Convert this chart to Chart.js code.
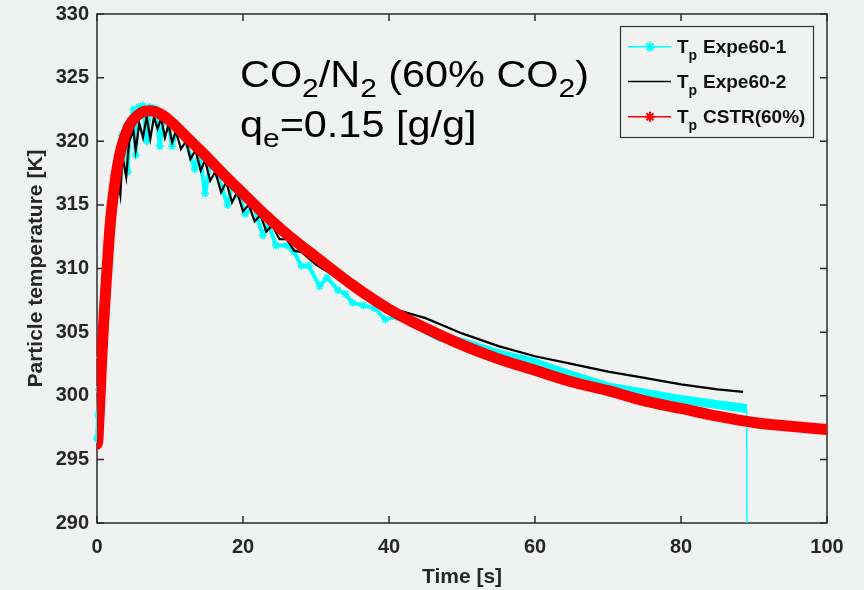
<!DOCTYPE html>
<html>
<head>
<meta charset="utf-8">
<script src="https://cdn.jsdelivr.net/npm/chart.js@4"></script>
<style>
  html, body { margin: 0; padding: 0; background: #eff2f1; }
  canvas { display: block; }
</style>
</head>
<body>
<canvas id="tempChart" width="864" height="590"></canvas>
<script>
    // CSTR model (red)
    const tCstr = [0, 0.1, 0.3, 0.5, 0.7, 0.9, 1.2, 1.5, 1.8, 2.2, 2.6, 3.1, 3.6, 4.5, 5.5, 6.5, 7.3, 8.5, 10, 12.5, 15, 17.5, 20, 22.5, 25, 27.5, 30, 35, 40, 45, 50, 55, 60, 65, 70, 75, 80, 85, 90, 95, 100];
    const TCstr = [296.2, 296.4, 298.5, 301.0, 303.5, 305.6, 308.4, 311.0, 313.4, 315.6, 317.3, 318.9, 320.0, 321.3, 322.0, 322.35, 322.4, 322.2, 321.6, 320.2, 318.8, 317.3, 315.9, 314.5, 313.2, 312.0, 310.9, 308.7, 306.8, 305.3, 304.0, 302.9, 302.0, 301.1, 300.4, 299.6, 299.0, 298.4, 297.9, 297.6, 297.35];

    // Experiment 60-1 (cyan)
    const tExp1 = [0, 0.15, 0.3, 0.45, 0.6, 0.8, 1.0, 1.3, 1.7, 2.2, 2.8, 3.4, 4.0, 4.2, 4.5, 5.0, 5.3, 5.7, 6.3, 6.8, 7.3, 8.0, 8.6, 9.2, 9.8, 10.3, 11, 12, 13.4, 14, 14.8, 15.5, 16.5, 17.9, 18.5, 19.5, 20.3, 21.5, 22.7, 23.5, 24.5, 26, 27, 28, 29, 30.5, 31.5, 33, 34, 35, 36.5, 38, 39.5, 41, 43, 45, 47, 50, 55, 60, 65, 70, 75, 80, 85, 89, 89.05];
    const TExp1 = [296.6, 298.5, 300.5, 303.0, 305.0, 307.3, 309.2, 311.5, 314.0, 316.5, 318.8, 320.5, 321.2, 317.6, 321.6, 322.5, 318.9, 322.7, 322.8, 320.0, 322.7, 322.6, 319.6, 322.1, 321.4, 319.6, 321.0, 320.2, 317.8, 319.2, 315.9, 318.2, 317.4, 315.0, 316.5, 315.7, 314.3, 314.9, 312.6, 313.5, 311.8, 311.8, 311.3, 310.2, 310.2, 308.6, 309.3, 308.3, 308.0, 307.3, 307.1, 306.9, 306.0, 306.2, 305.7, 305.2, 304.6, 304.2, 303.3, 302.6, 301.6, 300.7, 300.2, 299.7, 299.3, 299.0, 285.0];

    // Experiment 60-2 (black)
    const tExp2 = [0, 0.2, 0.4, 0.6, 0.8, 1.0, 1.3, 1.7, 2.2, 2.8, 3.2, 3.5, 4.0, 4.4, 5.0, 5.3, 5.8, 6.3, 6.8, 7.3, 7.8, 8.3, 8.8, 9.3, 9.8, 10.3, 10.8, 11.5, 12.2, 12.8, 13.5, 14.2, 14.8, 15.5, 16.2, 17, 17.7, 18.5, 19.2, 20, 20.8, 21.6, 22.4, 23.2, 24, 25, 26, 27, 28, 30, 32, 34, 36, 38, 40, 42, 45, 47.5, 50, 55, 60, 65, 70, 75, 80, 85, 88.5];
    const TExp2 = [296.5, 298.6, 301.5, 304.0, 306.3, 308.0, 310.5, 313.0, 315.3, 317.3, 315.8, 318.8, 317.2, 320.0, 320.8, 319.3, 321.4, 320.3, 321.9, 320.2, 321.9, 321.0, 321.8, 320.3, 321.3, 319.9, 320.8, 319.4, 320.0, 318.6, 319.3, 317.7, 318.5, 316.9, 317.6, 316.0, 316.8, 315.2, 316.0, 314.5, 315.0, 313.7, 314.2, 312.9, 313.4, 312.3, 312.3, 311.4, 311.3, 310.3, 309.6, 308.9, 308.4, 307.7, 306.9, 306.6, 306.1, 305.5, 304.9, 303.9, 303.1, 302.5, 301.9, 301.4, 300.9, 300.5, 300.3];

    const xTicks = [0, 20, 40, 60, 80, 100];
    const yTicks = [290, 295, 300, 305, 310, 315, 320, 325, 330];
    const legendNames = ['Expe60-1', 'Expe60-2', 'CSTR(60%)'];

    const bg = '#eff2f1';
    const axisColor = '#2b2b2b';
    const cyan = '#00ffff';
    const red = '#ff0000';

    const pts = (ts, vs) => ts.map((t, i) => ({ x: t, y: vs[i] }));

    // box around the plot and inward ticks, MATLAB style
    const frame = {
      id: 'frame',
      beforeDatasetsDraw(chart) {
        const { ctx, chartArea: a, scales: { x, y } } = chart;
        ctx.save();
        ctx.strokeStyle = axisColor;
        ctx.lineWidth = 1.5;
        ctx.strokeRect(a.left, a.top, a.right - a.left, a.bottom - a.top);
        ctx.beginPath();
        xTicks.forEach(v => {
          const px = x.getPixelForValue(v);
          ctx.moveTo(px, a.bottom); ctx.lineTo(px, a.bottom - 7);
          ctx.moveTo(px, a.top); ctx.lineTo(px, a.top + 7);
        });
        yTicks.forEach(v => {
          const py = y.getPixelForValue(v);
          ctx.moveTo(a.left, py); ctx.lineTo(a.left + 7, py);
          ctx.moveTo(a.right, py); ctx.lineTo(a.right - 7, py);
        });
        ctx.stroke();
        ctx.restore();
      }
    };

    function star(ctx, x, y, r) {
      ctx.beginPath();
      ctx.moveTo(x - r, y); ctx.lineTo(x + r, y);
      ctx.moveTo(x, y - r); ctx.lineTo(x, y + r);
      const d = r * 0.7071;
      ctx.moveTo(x - d, y - d); ctx.lineTo(x + d, y + d);
      ctx.moveTo(x - d, y + d); ctx.lineTo(x + d, y - d);
      ctx.stroke();
    }

    function drawPieces(ctx, pieces, x, y, big, small, subDy) {
      pieces.forEach(([txt, sub]) => {
        ctx.font = sub ? small : big;
        ctx.fillText(txt, x, y + (sub ? subDy : 0));
        x += ctx.measureText(txt).width;
      });
    }

    const overlay = {
      id: 'overlay',
      afterDraw(chart) {
        const ctx = chart.ctx;
        ctx.save();
        ctx.fillStyle = '#000';
        ctx.textBaseline = 'alphabetic';

        // annotation
        ctx.save();
        ctx.translate(240, 87);
        ctx.scale(1.15, 1);
        drawPieces(ctx, [['CO', 0], ['2', 1], ['/N', 0], ['2', 1], [' (60% CO', 0], ['2', 1], [')', 0]],
          0, 0, '36px "Liberation Sans", Arial, sans-serif', '26px "Liberation Sans", Arial, sans-serif', 10);
        drawPieces(ctx, [['q', 0], ['e', 1], ['=0.15 [g/g]', 0]],
          0, 50, '36px "Liberation Sans", Arial, sans-serif', '26px "Liberation Sans", Arial, sans-serif', 10);
        ctx.restore();

        // legend
        ctx.fillStyle = bg;
        ctx.fillRect(620, 26, 193, 111);
        ctx.strokeStyle = '#333';
        ctx.lineWidth = 1.2;
        ctx.strokeRect(620.5, 26.5, 193, 111);
        const rowY = [46.7, 81.5, 116.7];
        const cols = [cyan, '#000', red];
        rowY.forEach((ly, i) => {
          ctx.strokeStyle = cols[i];
          ctx.lineWidth = 1.5;
          ctx.beginPath();
          ctx.moveTo(628, ly); ctx.lineTo(671, ly);
          ctx.stroke();
          if (i !== 1) { ctx.lineWidth = 2; star(ctx, 650, ly, 5); }
          ctx.fillStyle = '#111';
          drawPieces(ctx, [['T', 0], ['p', 1]], 677, ly + 6.6,
            'bold 19px "Liberation Sans", Arial, sans-serif', 'bold 14px "Liberation Sans", Arial, sans-serif', 7);
          ctx.font = 'bold 19px "Liberation Sans", Arial, sans-serif';
          ctx.fillText(legendNames[i], 703, ly + 6.6);
        });
        ctx.restore();
      }
    };

    new Chart(document.getElementById('tempChart').getContext('2d'), {
      type: 'line',
      data: {
        datasets: [
          {
            label: 'Tp Expe60-1',
            data: pts(tExp1, TExp1),
            borderColor: cyan,
            backgroundColor: cyan,
            borderWidth: 4,
            borderJoinStyle: 'round',
            pointStyle: 'star',
            pointRadius: ctx => (tExp1[ctx.dataIndex] < 44 ? 4 : 0),
            pointBorderWidth: 1.5,
            pointBorderColor: cyan,
            segment: {
              borderWidth: ctx => (ctx.p1.parsed.y < 290 ? 1.5 : (ctx.p0.parsed.x > 44 ? 9 : 4))
            },
            clip: { left: 6, right: 6, top: 6, bottom: 0 },
            order: 3
          },
          {
            label: 'Tp Expe60-2',
            data: pts(tExp2, TExp2),
            borderColor: '#000',
            borderWidth: 2.2,
            pointRadius: 0,
            order: 2
          },
          {
            label: 'Tp CSTR(60%)',
            data: pts(tCstr, TCstr),
            borderColor: red,
            backgroundColor: red,
            borderWidth: 11,
            borderJoinStyle: 'round',
            borderCapStyle: 'round',
            cubicInterpolationMode: 'monotone',
            pointStyle: 'star',
            pointRadius: 5,
            pointBorderWidth: 2,
            pointBorderColor: red,
            order: 1
          }
        ]
      },
      options: {
        responsive: false,
        animation: false,
        layout: { padding: { left: 0, right: 37, top: 14, bottom: 0 } },
        plugins: {
          legend: { display: false },
          tooltip: { enabled: false }
        },
        scales: {
          x: {
            type: 'linear',
            min: 0,
            max: 100,
            afterFit: s => { s.height = 67; s.paddingLeft = 0; s.paddingRight = 0; },
            afterBuildTicks: s => { s.ticks = xTicks.map(v => ({ value: v })); },
            grid: { display: false, drawTicks: false },
            border: { display: false },
            ticks: {
              padding: 12,
              color: '#262626',
              font: { family: '"Liberation Sans", Arial, sans-serif', size: 20, weight: 'bold' }
            },
            title: {
              display: true,
              text: 'Time [s]',
              color: '#262626',
              padding: { top: 0, bottom: 0 },
              font: { family: '"Liberation Sans", Arial, sans-serif', size: 21, weight: 'bold' }
            }
          },
          y: {
            min: 290,
            max: 330,
            afterFit: s => { s.width = 97; s.paddingTop = 0; s.paddingBottom = 0; },
            afterBuildTicks: s => { s.ticks = yTicks.map(v => ({ value: v })); },
            grid: { display: false, drawTicks: false },
            border: { display: false },
            ticks: {
              padding: 8,
              color: '#262626',
              font: { family: '"Liberation Sans", Arial, sans-serif', size: 20, weight: 'bold' }
            },
            title: {
              display: true,
              text: 'Particle temperature [K]',
              color: '#262626',
              padding: { top: 24, bottom: 0 },
              font: { family: '"Liberation Sans", Arial, sans-serif', size: 21, weight: 'bold' }
            }
          }
        }
      },
      plugins: [frame, overlay]
    });
</script>
</body>
</html>
